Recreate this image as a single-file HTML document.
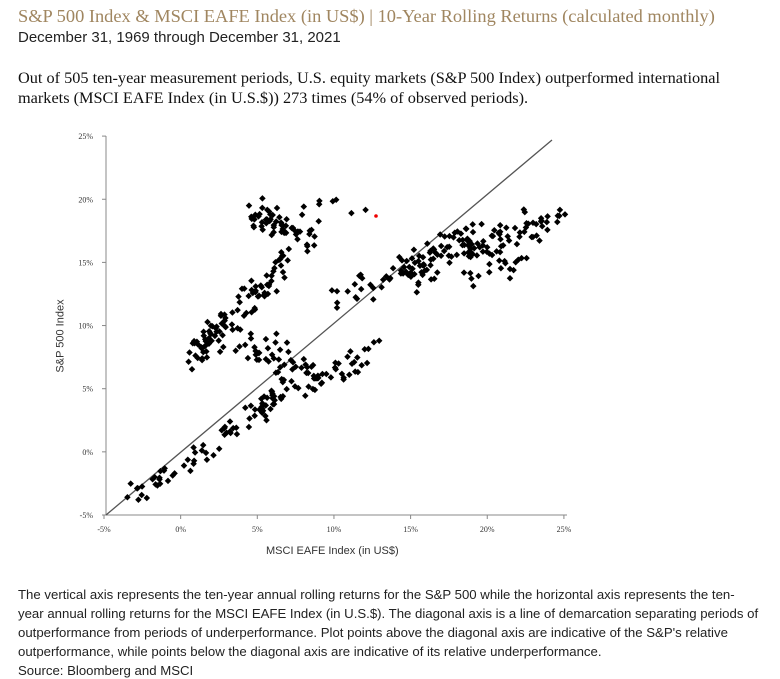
<!DOCTYPE html>
<html><head><meta charset="utf-8"><style>
body{margin:0;background:#fff;width:780px;height:679px;overflow:hidden;position:relative;font-family:"Liberation Serif",serif}
.t{position:absolute;white-space:nowrap}
</style></head><body>
<div class="t" style="left:18px;top:6px;font-size:18.4px;color:#a08660">S&amp;P 500 Index &amp; MSCI EAFE Index (in US$) | 10-Year Rolling Returns (calculated monthly)</div>
<div class="t" style="left:18px;top:29px;font-size:15px;font-family:'Liberation Sans',sans-serif;color:#222">December 31, 1969 through December 31, 2021</div>
<div class="t" style="left:18px;top:68px;font-size:16.3px;color:#111;line-height:20px">Out of 505 ten-year measurement periods, U.S. equity markets (S&amp;P 500 Index) outperformed international<br>markets (MSCI EAFE Index (in U.S.$)) 273 times (54% of observed periods).</div>
<svg id="s" style="position:absolute;left:0;top:0" width="780" height="679" font-family="Liberation Serif,serif" font-size="8" fill="#333"></svg>
<div class="t" style="left:266px;top:545px;font-size:11px;font-family:'Liberation Sans',sans-serif;color:#333">MSCI EAFE Index (in US$)</div>
<div class="t" style="left:24px;top:330px;font-size:11px;font-family:'Liberation Sans',sans-serif;color:#333;transform:rotate(-90deg);transform-origin:center">S&amp;P 500 Index</div>
<div class="t" style="left:18px;top:585px;font-size:13.2px;font-family:'Liberation Sans',sans-serif;color:#222;line-height:19px">The vertical axis represents the ten-year annual rolling returns for the S&amp;P 500 while the horizontal axis represents the ten-<br>year annual rolling returns for the MSCI EAFE Index (in U.S.$). The diagonal axis is a line of demarcation separating periods of<br>outperformance from periods of underperformance. Plot points above the diagonal axis are indicative of the S&amp;P's relative<br>outperformance, while points below the diagonal axis are indicative of its relative underperformance.</div>
<div class="t" style="left:18px;top:663px;font-size:13.2px;font-family:'Liberation Sans',sans-serif;color:#222">Source: Bloomberg and MSCI</div>
<script>
var s=document.getElementById('s'),h='';
var X=function(v){return 104+(v+5)*15.33},Y=function(v){return 515-(v+5)*12.63};
h+='<line x1="106" y1="136" x2="106" y2="515" stroke="#888"/><line x1="106" y1="515" x2="567" y2="515" stroke="#888"/>';
[-5,0,5,10,15,20,25].forEach(function(v){var y=Y(v),x=X(v);
h+='<line x1="102" y1="'+y+'" x2="106" y2="'+y+'" stroke="#888"/><text x="93" y="'+(y+3)+'" text-anchor="end">'+v+'%</text>';
h+='<line x1="'+x+'" y1="515" x2="'+x+'" y2="519" stroke="#888"/><text x="'+x+'" y="532" text-anchor="middle">'+v+'%</text>';});
h+='<line x1="106" y1="515" x2="552" y2="140" stroke="#555" stroke-width="1.3"/>';
var a=12345;function r(){a|=0;a=a+0x6D2B79F5|0;var t=Math.imul(a^a>>>15,1|a);t=t+Math.imul(t^t>>>7,61|t)^t;return((t^t>>>14)>>>0)/4294967296;}
function g(){return (r()+r()-1)*1.6;}
var segs=[[135,495,235,428,45,7],[192,360,215,325,30,9],[205,345,290,255,70,13],[255,212,310,238,55,12],[290,205,360,210,8,6],[240,340,320,378,45,13],[252,418,290,385,40,9],[300,385,375,352,35,12],[330,300,420,262,25,12],[400,270,480,235,70,13],[470,250,560,215,55,12],[420,285,520,260,25,10]];
segs.forEach(function(q){for(var i=0;i<q[4];i++){var t=r(),x=q[0]+(q[2]-q[0])*t+g()*q[5],y=q[1]+(q[3]-q[1])*t+g()*q[5];
h+='<rect x="'+(x-2.3).toFixed(1)+'" y="'+(y-2.3).toFixed(1)+'" width="4.6" height="4.6" fill="#000" transform="rotate(45 '+x.toFixed(1)+' '+y.toFixed(1)+')"/>';}});
h+='<circle cx="376" cy="216" r="1.8" fill="#e00"/>';
s.innerHTML=h;
</script>
</body></html>
